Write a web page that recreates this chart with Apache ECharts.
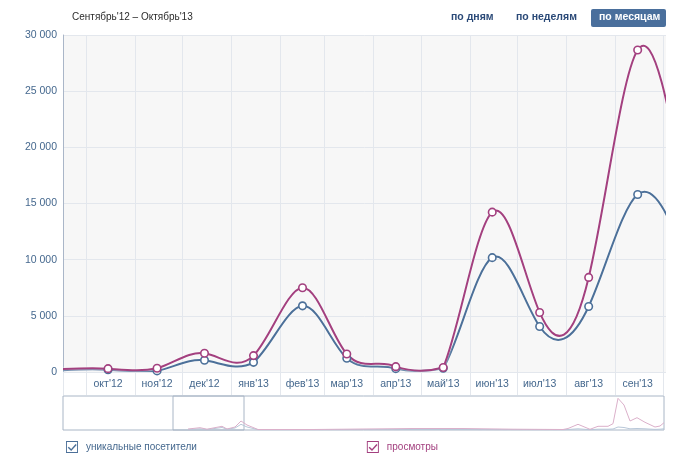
<!DOCTYPE html>
<html lang="ru">
<head>
<meta charset="UTF-8">
<title>Статистика посещений</title>
<script src="https://cdn.jsdelivr.net/npm/echarts@6/dist/echarts.min.js"></script>
<style>
    html, body { margin: 0; padding: 0; background: #fff; }
    #chart { width: 676px; height: 466px; }
</style>
</head>
<body>
<div id="chart"></div>
<script>
// месяцы (точка ставится на 15-е число)
var monthDates = ['2012-09-15', '2012-10-15', '2012-11-15', '2012-12-15', '2013-01-15', '2013-02-15', '2013-03-15',
                  '2013-04-15', '2013-05-15', '2013-06-15', '2013-07-15', '2013-08-15', '2013-09-15', '2013-10-15'];
var monthLabels = ["сен'12", "окт'12", "ноя'12", "дек'12", "янв'13", "фев'13", "мар'13",
                   "апр'13", "май'13", "июн'13", "июл'13", "авг'13", "сен'13", "окт'13"];
var visitors = [150, 200, 100, 1040, 860, 5890, 1220, 300, 330, 10180, 4050, 5830, 15800, 10400];
var views    = [250, 300, 330, 1670, 1460, 7500, 1600, 475, 400, 14230, 5300, 8420, 28660, 15700];
var yTicks = [0, 5000, 10000, 15000, 20000, 25000, 30000];

// мини-график навигатора
var navDay      = [125, 137, 144, 159, 164, 172, 178, 184, 195, 250, 300, 350, 400, 450, 500, 505, 515, 527, 535, 545, 550, 555, 561, 567, 574, 582, 592, 597, 601];
var navViews    = [1, 2.3, 0.8, 3.7, 1, 3, 9, 5, 0.5, 0.5, 1, 1.5, 1.5, 0.8, 0.5, 1.5, 5.7, 0.7, 3.7, 3.7, 6.3, 31.7, 25, 9, 12.3, 7.7, 3, 4, 7.3];
var navVisitors = [0.5, 1.2, 0.5, 2.5, 0.8, 2, 5.7, 3, 0.3, 0.3, 0.4, 0.5, 0.5, 0.4, 0.3, 0.5, 1.2, 0.3, 0.8, 0.8, 1, 3, 2.5, 1.2, 1.5, 1.2, 0.6, 0.8, 1.2];
var navWindow = [110, 181];

var FONT = 'Liberation Sans';
var BLUE = '#4c7099';
var PINK = '#a3407f';
var GRID_LINE = '#e3e7ed';

function toTime(s) {
    var p = s.split('-');
    return Date.UTC(+p[0], +p[1] - 1, +p[2]);
}
var pointTimes = monthDates.map(toTime);
// границы месяцев — первое число
var monthStarts = monthDates.map(function (s) { return toTime(s.slice(0, 8) + '01'); });
var xMin = Date.UTC(2012, 8, 16, 12);
var xMax = Date.UTC(2013, 9, 2, 22);

function pairs(xs, ys) {
    return xs.map(function (x, i) { return [x, ys[i]]; });
}
function spaced(v) {
    return String(v).replace(/\B(?=(\d{3})+(?!\d))/g, ' ');
}

// естественный кубический сплайн -> производные в узлах
function splineDerivs(v) {
    var n = v.length, a = [], b = [], c = [], r = [], d = [], i;
    for (i = 0; i < n; i++) {
        if (i === 0) { a[i] = 0; b[i] = 2; c[i] = 1; r[i] = 3 * (v[1] - v[0]); }
        else if (i === n - 1) { a[i] = 1; b[i] = 2; c[i] = 0; r[i] = 3 * (v[n - 1] - v[n - 2]); }
        else { a[i] = 1; b[i] = 4; c[i] = 1; r[i] = 3 * (v[i + 1] - v[i - 1]); }
    }
    for (i = 1; i < n; i++) {
        var m = a[i] / b[i - 1];
        b[i] -= m * c[i - 1];
        r[i] -= m * r[i - 1];
    }
    d[n - 1] = r[n - 1] / b[n - 1];
    for (i = n - 2; i >= 0; i--) d[i] = (r[i] - c[i] * d[i + 1]) / b[i];
    return d;
}
// контрольные точки не опускаются ниже нуля
function splinePath(pts, bottom) {
    var dx = splineDerivs(pts.map(function (p) { return p[0]; }));
    var dy = splineDerivs(pts.map(function (p) { return p[1]; }));
    var s = 'M' + pts[0][0] + ',' + pts[0][1];
    for (var i = 0; i < pts.length - 1; i++) {
        var c1y = Math.min(pts[i][1] + dy[i] / 3, bottom);
        var c2y = Math.min(pts[i + 1][1] - dy[i + 1] / 3, bottom);
        s += 'C' + (pts[i][0] + dx[i] / 3) + ',' + c1y + ' ' +
             (pts[i + 1][0] - dx[i + 1] / 3) + ',' + c2y + ' ' +
             pts[i + 1][0] + ',' + pts[i + 1][1];
    }
    return s;
}
function curveSeries(name, values, color, z) {
    return {
        name: name, type: 'custom', xAxisIndex: 0, yAxisIndex: 0,
        data: pairs(pointTimes, values),
        clip: true, silent: true, z: z,
        renderItem: function (params, api) {
            if (params.dataIndexInside !== 0) return null;
            var pts = [];
            for (var i = 0; i < params.dataInsideLength; i++) {
                pts.push(api.coord([api.value(0, i), api.value(1, i)]));
            }
            var bottom = api.coord([api.value(0, 0), 0])[1];
            return {
                type: 'path',
                shape: { pathData: splinePath(pts, bottom) },
                style: {
                    fill: 'none', stroke: color, lineWidth: 2,
                    shadowColor: 'rgba(255,255,255,0.9)', shadowBlur: 2
                }
            };
        }
    };
}
function pointSeries(name, values, color, z) {
    return {
        name: name, type: 'line', xAxisIndex: 0, yAxisIndex: 0,
        data: pairs(pointTimes, values),
        clip: true, z: z,
        symbol: 'circle', symbolSize: 7.5, showAllSymbol: true,
        lineStyle: { opacity: 0 },
        itemStyle: { color: '#fff', borderColor: color, borderWidth: 1.6 }
    };
}

var checkIcon = 'path://M0,0L13,0L13,13L0,13Z M1,1L1,12L12,12L12,1Z M3,6.2L5.6,8.6L10.4,3.2L11.6,4.3L5.6,10.9L1.9,7.4Z';

var chart = echarts.init(document.getElementById('chart'), null, { renderer: 'canvas' });

chart.setOption({
    animation: false,
    textStyle: { fontFamily: FONT },
    title: {
        text: "Сентябрь'12 – Октябрь'13",
        left: 72, top: 12, padding: 0,
        textStyle: { fontFamily: FONT, fontSize: 10, fontWeight: 'normal', color: '#2b2b2b' }
    },
    legend: {
        left: 66, top: 441, padding: 0,
        itemWidth: 12, itemHeight: 12, itemGap: 170,
        icon: checkIcon,
        selectedMode: false,
        textStyle: { fontFamily: FONT, fontSize: 10, padding: [0, 0, 0, 3] },
        data: [
            { name: 'уникальные посетители', itemStyle: { color: BLUE, borderWidth: 0 }, textStyle: { color: '#45688e' } },
            { name: 'просмотры', itemStyle: { color: PINK, borderWidth: 0 }, textStyle: { color: PINK } }
        ]
    },
    graphic: [
        { type: 'text', left: 451, top: 12, style: { text: 'по дням', fill: '#2b4a78', font: 'bold 10.5px "Liberation Sans"' } },
        { type: 'text', left: 516, top: 12, style: { text: 'по неделям', fill: '#2b4a78', font: 'bold 10.5px "Liberation Sans"' } },
        { type: 'rect', left: 591, top: 9, shape: { width: 75, height: 18, r: 2 }, style: { fill: '#4a6f9c' } },
        { type: 'text', left: 599, top: 12, style: { text: 'по месяцам', fill: '#fff', font: 'bold 10.5px "Liberation Sans"' } }
    ],
    grid: [
        { left: 63, right: 10, top: 35, bottom: 94, show: true, backgroundColor: '#f7f7f7', borderWidth: 0 },
        { left: 63, right: 12, top: 396, height: 34, show: true, backgroundColor: '#fff', borderColor: '#a9b6c6', borderWidth: 1 }
    ],
    xAxis: [
        {
            // ось времени в миллисекундах (UTC)
            type: 'value', gridIndex: 0, min: xMin, max: xMax, scale: true,
            axisLine: { show: false },
            axisTick: {
                show: true, length: 23, inside: false,
                customValues: [xMin].concat(monthStarts),
                lineStyle: { color: GRID_LINE, width: 1 }
            },
            splitLine: { show: true, lineStyle: { color: GRID_LINE, width: 1 } },
            axisLabel: {
                customValues: pointTimes,
                margin: 7,
                color: '#45688e', fontSize: 10.5, fontFamily: FONT,
                formatter: function (v) {
                    var i = pointTimes.indexOf(v);
                    return i >= 0 ? monthLabels[i] : '';
                }
            }
        },
        {
            type: 'value', gridIndex: 1, min: 0, max: 601,
            show: false
        }
    ],
    yAxis: [
        {
            type: 'value', gridIndex: 0, min: yTicks[0], max: yTicks[yTicks.length - 1], interval: 5000,
            axisLine: { show: true, lineStyle: { color: '#aab6c8', width: 1 } },
            axisTick: { show: false },
            splitLine: { show: true, lineStyle: { color: GRID_LINE, width: 1 } },
            axisLabel: { margin: 6, color: '#45688e', fontSize: 10.5, fontFamily: FONT, formatter: spaced }
        },
        { type: 'value', gridIndex: 1, min: 0, max: 34, show: false }
    ],
    series: [
        curveSeries('visitors-curve', visitors, BLUE, 2),
        curveSeries('views-curve', views, PINK, 3),
        pointSeries('уникальные посетители', visitors, BLUE, 4),
        pointSeries('просмотры', views, PINK, 5),
        {
            name: 'nav-visitors', type: 'line', xAxisIndex: 1, yAxisIndex: 1,
            data: pairs(navDay, navVisitors),
            symbol: 'none', silent: true,
            lineStyle: { color: '#b8c7d8', width: 1 }
        },
        {
            name: 'nav-views', type: 'line', xAxisIndex: 1, yAxisIndex: 1,
            data: pairs(navDay, navViews),
            symbol: 'none', silent: true,
            lineStyle: { color: '#dbb0ca', width: 1 },
            markArea: {
                silent: true,
                itemStyle: { color: 'rgba(0,0,0,0)', borderColor: '#a9b6c6', borderWidth: 1 },
                data: [[{ xAxis: navWindow[0] }, { xAxis: navWindow[1] }]]
            }
        }
    ]
});
</script>
</body>
</html>
